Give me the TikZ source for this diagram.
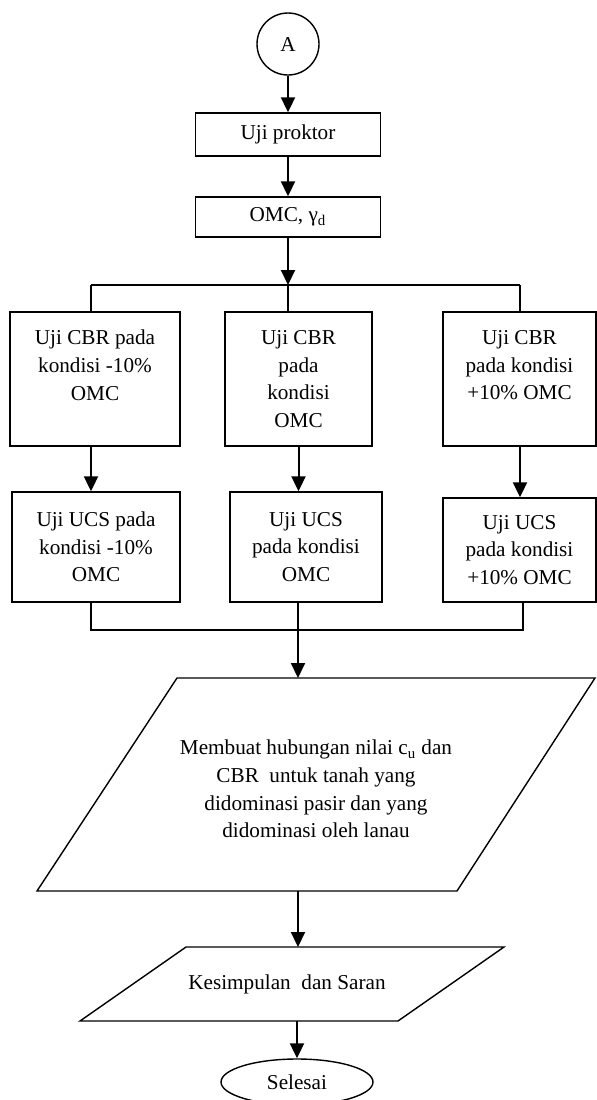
\documentclass[tikz,border=0pt]{standalone}
\usepackage{fontspec}
\setmainfont{Liberation Serif}
\usepackage{tikz}
\usetikzlibrary{positioning,shapes.geometric,arrows.meta}

\begin{document}
\begin{tikzpicture}[x=0.5pt,y=-0.5pt,
  every node/.style={font=\fontsize{10.6}{13.8}\selectfont, align=center},
  kotak/.style={draw, line width=0.7pt, inner sep=2pt},
  konektor/.style={draw, circle, line width=0.7pt, minimum size=31pt, inner sep=0pt},
  bingkai/.style={line width=0.7pt, line join=miter},
  garis/.style={line width=1pt},
  panah/.style={line width=1pt, -{Triangle[width=7pt,length=7.5pt]}}]
\useasboundingbox (0,0) rectangle (597,1100);

%====================================================
% AWAL DAN UJI PROKTOR
%====================================================
\node[konektor] (A) at (288,44) {A};
\node[kotak, minimum width=92.5pt, minimum height=21.5pt] (proktor) at (288,134.5) {Uji proktor};
\node[kotak, minimum width=92.5pt, minimum height=20pt] (omc) at (288,217) {OMC, γ\textsubscript{d}};

%====================================================
% UJI CBR
%====================================================
\node[kotak, minimum width=85pt, minimum height=67pt] (cbrL) at (95,379) {Uji CBR pada\\kondisi -10\%\\OMC\\ ~};
\node[kotak, minimum width=73.5pt, minimum height=67pt] (cbrM) at (298.5,379) {Uji CBR\\pada\\kondisi\\OMC};
\node[kotak, minimum width=76.5pt, minimum height=67pt] (cbrR) at (519.5,379) {Uji CBR\\pada kondisi\\+10\% OMC\\ ~};

%====================================================
% UJI UCS
%====================================================
\node[kotak, minimum width=84pt, minimum height=55pt] (ucsL) at (96,547) {Uji UCS pada\\kondisi -10\%\\OMC};
\node[kotak, minimum width=76pt, minimum height=55pt] (ucsM) at (306,547) {Uji UCS\\pada kondisi\\OMC};
\node[kotak, minimum width=76.5pt, minimum height=52pt] (ucsR) at (519.5,550) {Uji UCS\\pada kondisi\\+10\% OMC};

%====================================================
% HUBUNGAN, KESIMPULAN, SELESAI
%====================================================
\draw[bingkai] (177,678) coordinate (hubA) -- (595,678) -- (457,891) coordinate (hubB) -- (37,891) -- cycle;
\node (hubungan) at (316,789)
  {Membuat hubungan nilai c\textsubscript{u} dan\\CBR\ \ untuk tanah yang\\didominasi pasir dan yang\\didominasi oleh lanau};
\draw[bingkai] (186,947) coordinate (kesA) -- (504,947) -- (398,1021) coordinate (kesB) -- (80,1021) -- cycle;
\node (kesimpulan) at (287,984) {Kesimpulan\ \ dan Saran};
\node[draw, ellipse, line width=0.7pt, minimum width=76pt, minimum height=23pt, inner sep=0pt] (selesai) at (297,1082) {Selesai};

\coordinate (split) at (288,285);
\coordinate (bL) at (91,285);
\coordinate (bR) at (520,285);
\coordinate (jL) at (91,630);
\coordinate (jM) at (298,630);
\coordinate (jR) at (523,630);

% panah utama
\draw[panah] (A) -- (A |- proktor.north);
\draw[panah] (proktor) -- (omc);
\draw[panah] (omc) -- (split);

% percabangan
\draw[garis] (bL) -- (bR);
\draw[garis] (bL) -- (bL |- cbrL.north);
\draw[garis] (split) -- (split |- cbrM.north);
\draw[garis] (bR) -- (bR |- cbrR.north);

\draw[panah] (bL |- cbrL.south) -- (bL |- ucsL.north);
\draw[panah] (cbrM.south) -- (cbrM.south |- ucsM.north);
\draw[panah] (bR |- cbrR.south) -- (bR |- ucsR.north);

% penggabungan
\draw[garis] (jL |- ucsL.south) -- (jL) -- (jR) -- (jR |- ucsR.south);
\draw[panah] (jM |- ucsM.south) -- (jM |- hubA);
\draw[panah] (jM |- hubB) -- (jM |- kesA);
\draw[panah] (selesai |- kesB) -- (selesai);
\end{tikzpicture}
\end{document}
